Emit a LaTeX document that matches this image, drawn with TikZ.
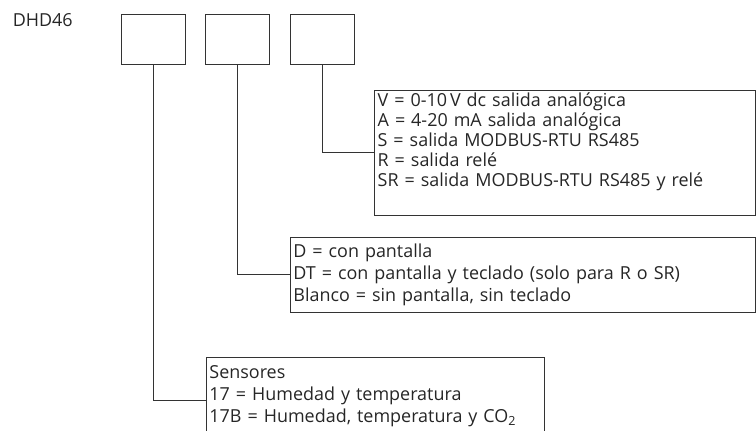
\documentclass[tikz,border=0pt]{standalone}
\usepackage{fontspec}
\setmainfont{Open Sans}
\usetikzlibrary{positioning}

\begin{document}
\begin{tikzpicture}[font=\fontsize{13.5}{15}\selectfont,line width=0.7pt,draw=black!80,text=black!85,
  slot/.style={draw,minimum width=1.69cm,minimum height=1.32cm,inner sep=0pt},
  opts/.style={draw,anchor=north west,align=left,inner xsep=2.25pt,inner ysep=0pt}]
\useasboundingbox (0,0) rectangle (20.00,11.38);
\node[anchor=base west] (code) at (0.21,10.69) {DHD46};
\node[slot] (sens) at (4.07,10.345) {};
\node[slot] (disp) at (6.28,10.345) {};
\node[slot] (out) at (8.53,10.345) {};
\node[opts,text width=282pt,text height=12pt,text depth=81.75pt] (outlist) at (9.90,9.00) {V = 0-10\,V dc salida analógica\\
A = 4-20 mA salida analógica\\
S = salida MODBUS-RTU RS485\\
R = salida relé\\
SR = salida MODBUS-RTU RS485 y relé};
\node[opts,font=\fontsize{13.5}{16.5}\selectfont,text width=345.5pt,text height=15pt,text depth=41.25pt] (displist) at (7.67,5.11) {D = con pantalla\\
DT = con pantalla y teclado (solo para R o SR)\\
Blanco = sin pantalla, sin teclado};
\node[opts,font=\fontsize{13.5}{16.5}\selectfont,text width=250pt,text height=15.75pt,text depth=48.75pt] (senslist) at (5.45,1.93) {Sensores\\
17 = Humedad y temperatura\\
17B = Humedad, temperatura y CO\textsubscript{2}};
\draw (out.south) |- (outlist.west);
\draw (disp.south) |- (displist.west);
\draw (sens.south) |- (senslist.west);
\end{tikzpicture}
\end{document}
